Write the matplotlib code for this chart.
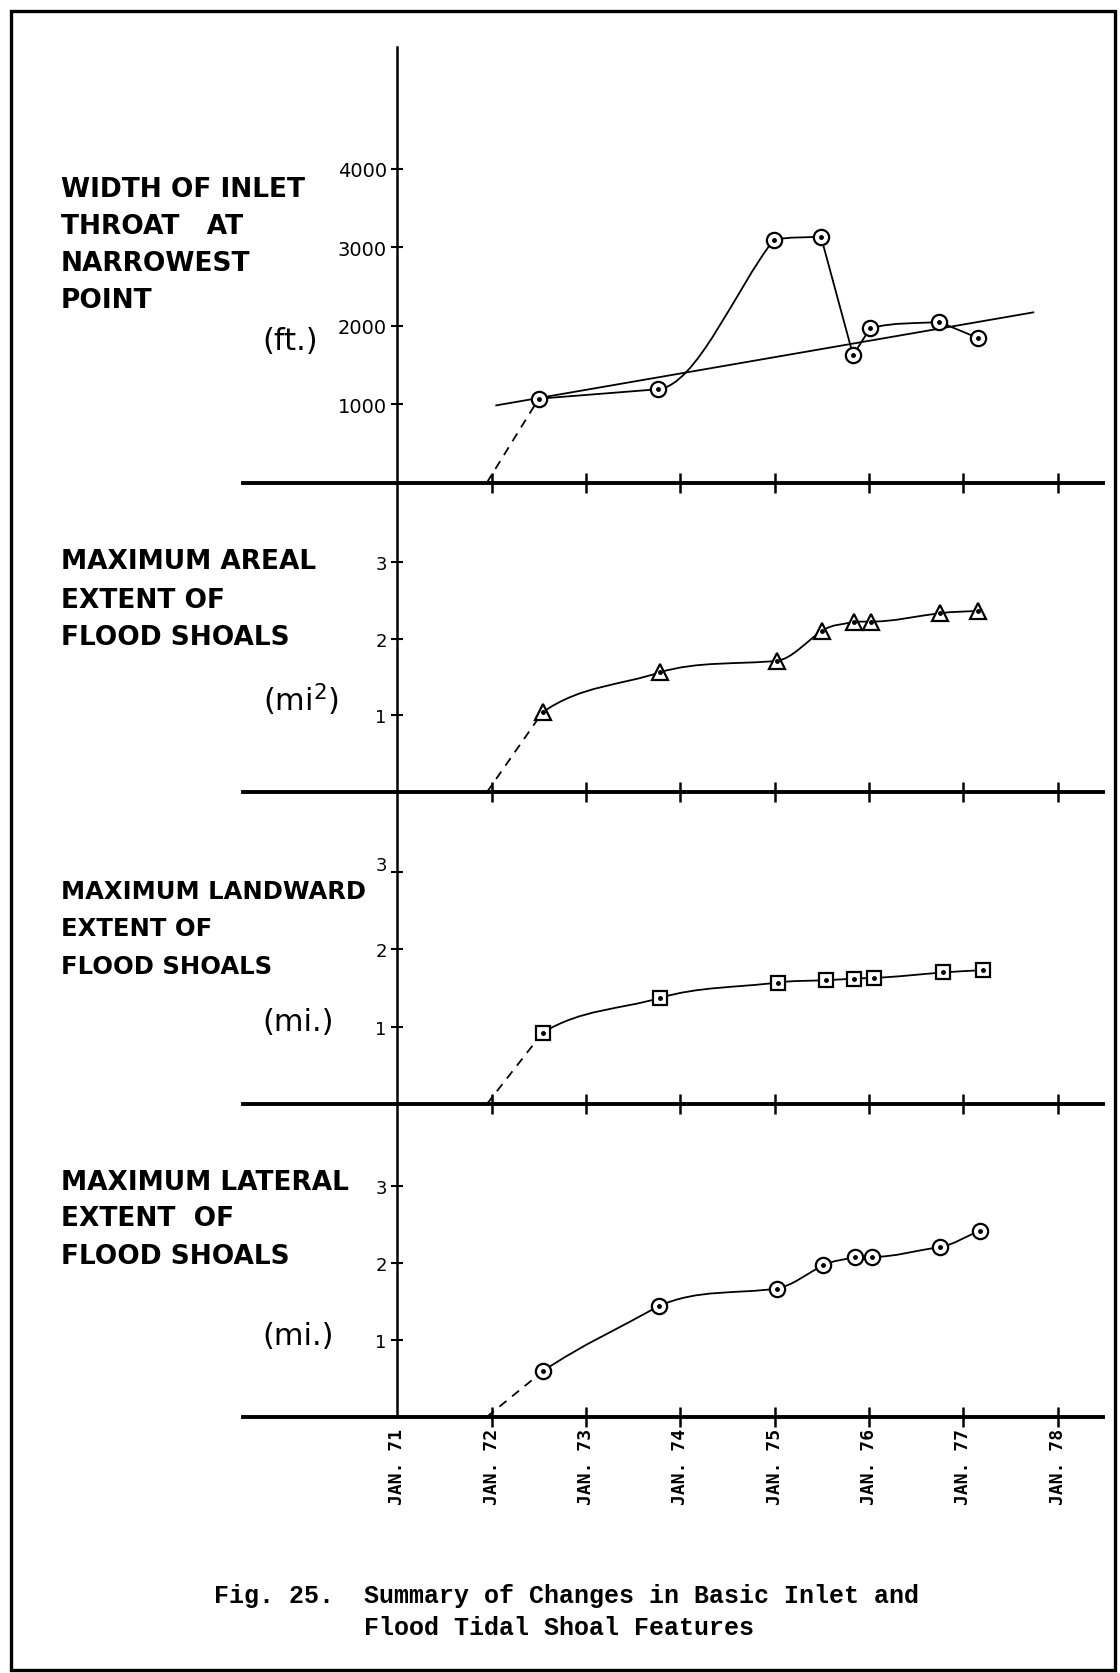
import numpy as np
import matplotlib
matplotlib.use("Agg")
import matplotlib.pyplot as plt
from matplotlib.path import Path
from matplotlib.patches import PathPatch, Rectangle
from matplotlib.transforms import ScaledTranslation

# x values are decimal years (71.0 = JAN. 71)
year_ticks = [71, 72, 73, 74, 75, 76, 77, 78]
year_labels = ["JAN. 71", "JAN. 72", "JAN. 73", "JAN. 74",
               "JAN. 75", "JAN. 76", "JAN. 77", "JAN. 78"]

# Width of inlet throat at narrowest point (ft.)
width_years = [72.50, 73.76, 74.99, 75.49, 75.83, 76.01, 76.74, 77.15]
width_ft = [1070, 1190, 3095, 3135, 1625, 1965, 2050, 1845]
trend_years = [72.05, 77.74]
trend_ft = [985, 2170]

# Maximum areal extent of flood shoals (mi^2)
areal_years = [72.54, 73.78, 75.02, 75.50, 75.84, 76.02, 76.75, 77.15]
areal_mi2 = [1.04, 1.56, 1.71, 2.10, 2.22, 2.22, 2.33, 2.36]

# Maximum landward extent of flood shoals (mi.)
land_years = [72.54, 73.78, 75.03, 75.54, 75.84, 76.05, 76.78, 77.21]
land_mi = [0.92, 1.37, 1.57, 1.60, 1.62, 1.63, 1.70, 1.73]

# Maximum lateral extent of flood shoals (mi.)
lat_years = [72.55, 73.77, 75.02, 75.51, 75.85, 76.03, 76.75, 77.17]
lat_mi = [0.60, 1.44, 1.67, 1.97, 2.08, 2.08, 2.21, 2.42]

start_year = 71.95   # dashed lines start from zero here

W, H = 1120, 1674
S = W / 1049.0  # layout measured on the 1049 px wide preview


def fx(x):
    return x * S / W


def fy(y):
    return 1 - y * S / H


def smooth_curve(ax, xs, ys, first_slope=None):
    # hand-drawn look: each piece leaves a point along the previous chord
    # and arrives along its own chord; control points stay inside the piece
    xs = np.asarray(xs, float)
    ys = np.asarray(ys, float)
    chords = np.diff(ys) / np.diff(xs)
    verts = [(xs[0], ys[0])]
    codes = [Path.MOVETO]
    for i in range(len(xs) - 1):
        h = (xs[i + 1] - xs[i]) / 3
        if i == 0:
            m_out = chords[0] if first_slope is None else first_slope
        elif chords[i - 1] * chords[i] < 0:
            m_out = chords[i]      # sharp turn at a peak or dip
        else:
            m_out = chords[i - 1]
        lo, hi = sorted((ys[i], ys[i + 1]))
        c1 = (xs[i] + h, np.clip(ys[i] + h * m_out, lo, hi))
        c2 = (xs[i + 1] - h, np.clip(ys[i + 1] - h * chords[i], lo, hi))
        verts += [c1, c2, (xs[i + 1], ys[i + 1])]
        codes += [Path.CURVE4] * 3
    ax.add_patch(PathPatch(Path(verts, codes), fill=False, lw=1.3, color="black", zorder=3))


def dotted_markers(ax, xs, ys, marker, size):
    ax.plot(xs, ys, ls="none", marker=marker, ms=size, mfc="white", mec="black", mew=1.6, zorder=5)
    ax.plot(xs, ys, ls="none", marker="o", ms=2.5, color="black", zorder=6)


def dashed_start(ax, xs, ys):
    ax.plot([start_year, xs[0]], [0, ys[0]], color="black", lw=1.3, ls=(0, (5, 4)), zorder=3)
    dash = ys[0] / (xs[0] - start_year)
    chord = (ys[1] - ys[0]) / (xs[1] - xs[0])
    return np.sqrt(dash * chord)


def make_panel(fig, top, bottom, ymax, yticks, labelsize):
    left = fx(228)
    width = fx(1033) - fx(228)
    ax = fig.add_axes([left, fy(bottom), width, fy(top) - fy(bottom)])
    ax.set_xlim(71 - (372 - 228) / 88.4, 71 + (1033 - 372) / 88.4)
    ax.set_ylim(0, ymax)
    ax.spines["top"].set_visible(False)
    ax.spines["right"].set_visible(False)
    ax.spines["left"].set_position(("data", 71))
    ax.spines["left"].set_linewidth(1.8)
    ax.spines["bottom"].set_linewidth(2.8)
    ax.set_xticks(year_ticks[1:])
    ax.set_yticks(yticks)
    ax.tick_params(axis="x", direction="inout", length=14, width=1.8, labelbottom=False)
    ax.tick_params(axis="y", direction="inout", length=9, width=1.5, labelsize=labelsize, pad=3)
    ax.patch.set_alpha(0)
    return ax


fig = plt.figure(figsize=(W / 100, H / 100), dpi=100)

# frame around the whole figure
fig.add_artist(Rectangle((fx(10), fy(1565)), fx(1044) - fx(10), fy(11) - fy(1565),
                         transform=fig.transFigure, fill=False, lw=2.4, color="black"))

# panel 1: inlet width
ax1 = make_panel(fig, 45, 453, (453 - 45) / 73.5 * 1000, [1000, 2000, 3000, 4000], 14)
ax1.plot(trend_years, trend_ft, color="black", lw=1.3, zorder=3)
dashed_start(ax1, width_years, width_ft)
smooth_curve(ax1, width_years, width_ft)
dotted_markers(ax1, width_years, width_ft, "o", 11)

# panel 2: areal extent
ax2 = make_panel(fig, 453, 743, (743 - 453) / 72.0, [1, 2, 3], 13)
m = dashed_start(ax2, areal_years, areal_mi2)
smooth_curve(ax2, areal_years, areal_mi2, m)
dotted_markers(ax2, areal_years, areal_mi2, "^", 12)

# panel 3: landward extent
ax3 = make_panel(fig, 743, 1035, (1035 - 743) / 72.5, [1, 2, 3], 13)
m = dashed_start(ax3, land_years, land_mi)
smooth_curve(ax3, land_years, land_mi, m)
dotted_markers(ax3, land_years, land_mi, "s", 10)
# the "3" sits a little high, clear of the title
lab3 = ax3.get_yticklabels()[-1]
lab3.set_transform(lab3.get_transform() + ScaledTranslation(0, 6 / 72, fig.dpi_scale_trans))

# panel 4: lateral extent
ax4 = make_panel(fig, 1035, 1328, (1328 - 1035) / 72.0, [1, 2, 3], 13)
m = dashed_start(ax4, lat_years, lat_mi)
smooth_curve(ax4, lat_years, lat_mi, m)
dotted_markers(ax4, lat_years, lat_mi, "o", 11)
ax4.set_xticks(year_ticks)
ax4.set_xticklabels(year_labels, rotation=90, fontfamily="DejaVu Sans Mono",
                    fontweight="bold", fontsize=13)
ax4.tick_params(axis="x", labelbottom=True, pad=1)
ax4.xaxis.get_major_ticks()[0].tick1line.set_visible(False)

# panel titles on the left
titles = [
    (["WIDTH OF INLET", "THROAT   AT", "NARROWEST", "POINT"], [178, 213, 247, 282], 19, "(ft.)", 320),
    (["MAXIMUM AREAL", "EXTENT OF", "FLOOD SHOALS"], [526, 563, 598], 19, "(mi$^2$)", 655),
    (["MAXIMUM LANDWARD", "EXTENT OF", "FLOOD SHOALS"], [835, 870, 906], 17.5, "(mi.)", 958),
    (["MAXIMUM LATERAL", "EXTENT  OF", "FLOOD SHOALS"], [1108, 1142, 1177], 19, "(mi.)", 1252),
]
for lines, ys, size, unit, uy in titles:
    for line, y in zip(lines, ys):
        fig.text(fx(57), fy(y), line, fontsize=size, fontweight="bold", ha="left", va="center")
    fig.text(fx(246), fy(uy), unit, fontsize=22, ha="left", va="center")

# caption
fig.text(fx(200), fy(1495), "Fig. 25.  Summary of Changes in Basic Inlet and",
         fontfamily="Liberation Mono", fontweight="bold", fontsize=18, ha="left", va="center")
fig.text(fx(200), fy(1525), "          Flood Tidal Shoal Features",
         fontfamily="Liberation Mono", fontweight="bold", fontsize=18, ha="left", va="center")

fig.savefig("out.png", dpi=100, facecolor="white")
